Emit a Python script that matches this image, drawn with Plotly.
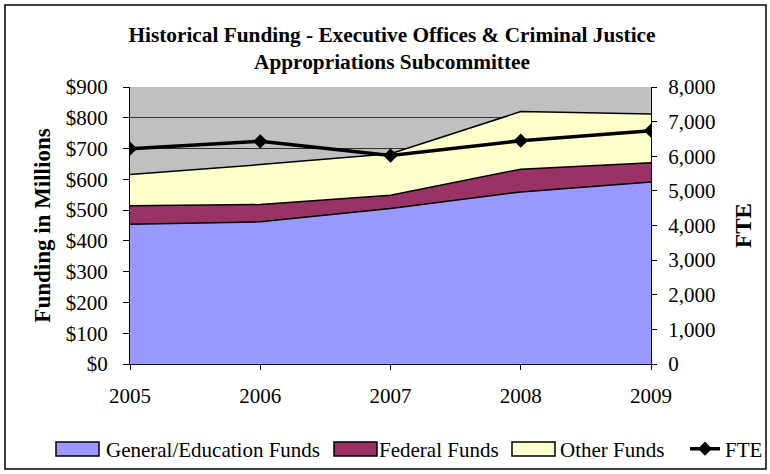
import plotly.graph_objects as go

years = [2005, 2006, 2007, 2008, 2009]
general_funds = [454, 462, 505, 559, 591]
federal_funds = [60, 56, 43, 74, 63]
other_funds = [102, 130, 135, 187, 158]
fte = [6220, 6430, 6020, 6450, 6740]
left_ticks = [0, 100, 200, 300, 400, 500, 600, 700, 800, 900]
left_tick_text = ["$" + str(v) for v in left_ticks]
right_ticks = [0, 1000, 2000, 3000, 4000, 5000, 6000, 7000, 8000]

fund_names = ["General/Education Funds", "Federal Funds", "Other Funds"]
fund_colors = ["#9999FF", "#993366", "#FFFFCC"]
fund_values = [general_funds, federal_funds, other_funds]

FONT = "Liberation Serif"
W, H = 770, 474
L, R, T, B = 130, 119, 87, 110
PW, PH = W - L - R, H - T - B


def px_x(x):
    return (x - L) / PW


def px_y(y):
    return (H - B - y) / PH


fig = go.Figure()
for name, color, vals in zip(fund_names, fund_colors, fund_values):
    fig.add_trace(go.Scatter(x=years, y=vals, name=name, stackgroup="funds",
                             mode="lines", line=dict(color="black", width=1.5),
                             fillcolor=color, showlegend=False))
fig.add_trace(go.Scatter(x=years, y=fte, name="FTE", yaxis="y2",
                         mode="lines+markers", line=dict(color="black", width=3.5),
                         marker=dict(symbol="diamond", size=11, color="black"),
                         legend="legend4"))

# legend entries for the stacked areas (box drawn as a shape)
legend_ids = ["legend", "legend2", "legend3"]
for name, lid in zip(fund_names, legend_ids):
    fig.add_trace(go.Scatter(x=[None], y=[None], name=name, mode="lines",
                             line=dict(color="rgba(0,0,0,0)", width=1),
                             legend=lid, hoverinfo="skip"))


def legend_at(x_px):
    return dict(orientation="h", xref="container", yref="container",
                x=x_px / W, xanchor="left", y=1 - 449 / H, yanchor="middle",
                font=dict(family=FONT, size=21, color="black"),
                bgcolor="rgba(0,0,0,0)", itemwidth=30)


box_left = [56, 334, 512]
shapes = [dict(type="rect", xref="paper", yref="paper",
               x0=px_x(5), x1=px_x(766), y0=px_y(469), y1=px_y(5),
               line=dict(color="black", width=1.5), fillcolor="rgba(0,0,0,0)",
               layer="below")]
for bx, color in zip(box_left, fund_colors):
    shapes.append(dict(type="rect", xref="paper", yref="paper",
                       x0=px_x(bx), x1=px_x(bx + 43), y0=px_y(456), y1=px_y(442),
                       line=dict(color="black", width=1.5), fillcolor=color,
                       layer="above"))

fig.update_layout(
    width=W, height=H,
    margin=dict(l=L, r=R, t=T, b=B, autoexpand=False),
    paper_bgcolor="white",
    plot_bgcolor="#C0C0C0",
    font=dict(family=FONT, size=21, color="black"),
    title=dict(text="<b>Historical Funding - Executive Offices & Criminal Justice<br>Appropriations Subcommittee</b>",
               x=392 / W, xref="container", xanchor="center",
               y=1 - 41.5 / H, yref="container", yanchor="middle",
               font=dict(family=FONT, size=21.3, color="black")),
    xaxis=dict(range=[2005, 2009], tickvals=years, ticktext=[str(y) for y in years],
               showgrid=False, zeroline=False, showline=True, linecolor="black", linewidth=1,
               ticks="outside", ticklen=5, tickcolor="black", ticklabelstandoff=8,
               automargin=False, tickfont=dict(family=FONT, size=21)),
    yaxis=dict(range=[0, 900], tickvals=left_ticks, ticktext=left_tick_text,
               showgrid=True, gridcolor="#333333", gridwidth=1, zeroline=False,
               showline=True, linecolor="black", linewidth=1,
               ticks="outside", ticklen=6, tickcolor="black", ticklabelstandoff=11,
               automargin=False, tickfont=dict(family=FONT, size=21),
               title=dict(text="<b>Funding in Millions</b>", standoff=8,
                          font=dict(family=FONT, size=23))),
    yaxis2=dict(range=[0, 8000], tickvals=right_ticks, tickformat=",",
                overlaying="y", side="right", showgrid=False, zeroline=False,
                showline=True, linecolor="black", linewidth=1,
                ticks="outside", ticklen=5, tickcolor="black", ticklabelstandoff=7,
                automargin=False, tickfont=dict(family=FONT, size=21),
                title=dict(text="<b>FTE</b>", standoff=20,
                           font=dict(family=FONT, size=23))),
    legend=legend_at(66),
    legend2=legend_at(339),
    legend3=legend_at(520),
    legend4=legend_at(685),
    showlegend=True,
    shapes=shapes,
)

fig.write_html("out.html", config={"displayModeBar": False},
               post_script="document.body.style.margin='0';")
